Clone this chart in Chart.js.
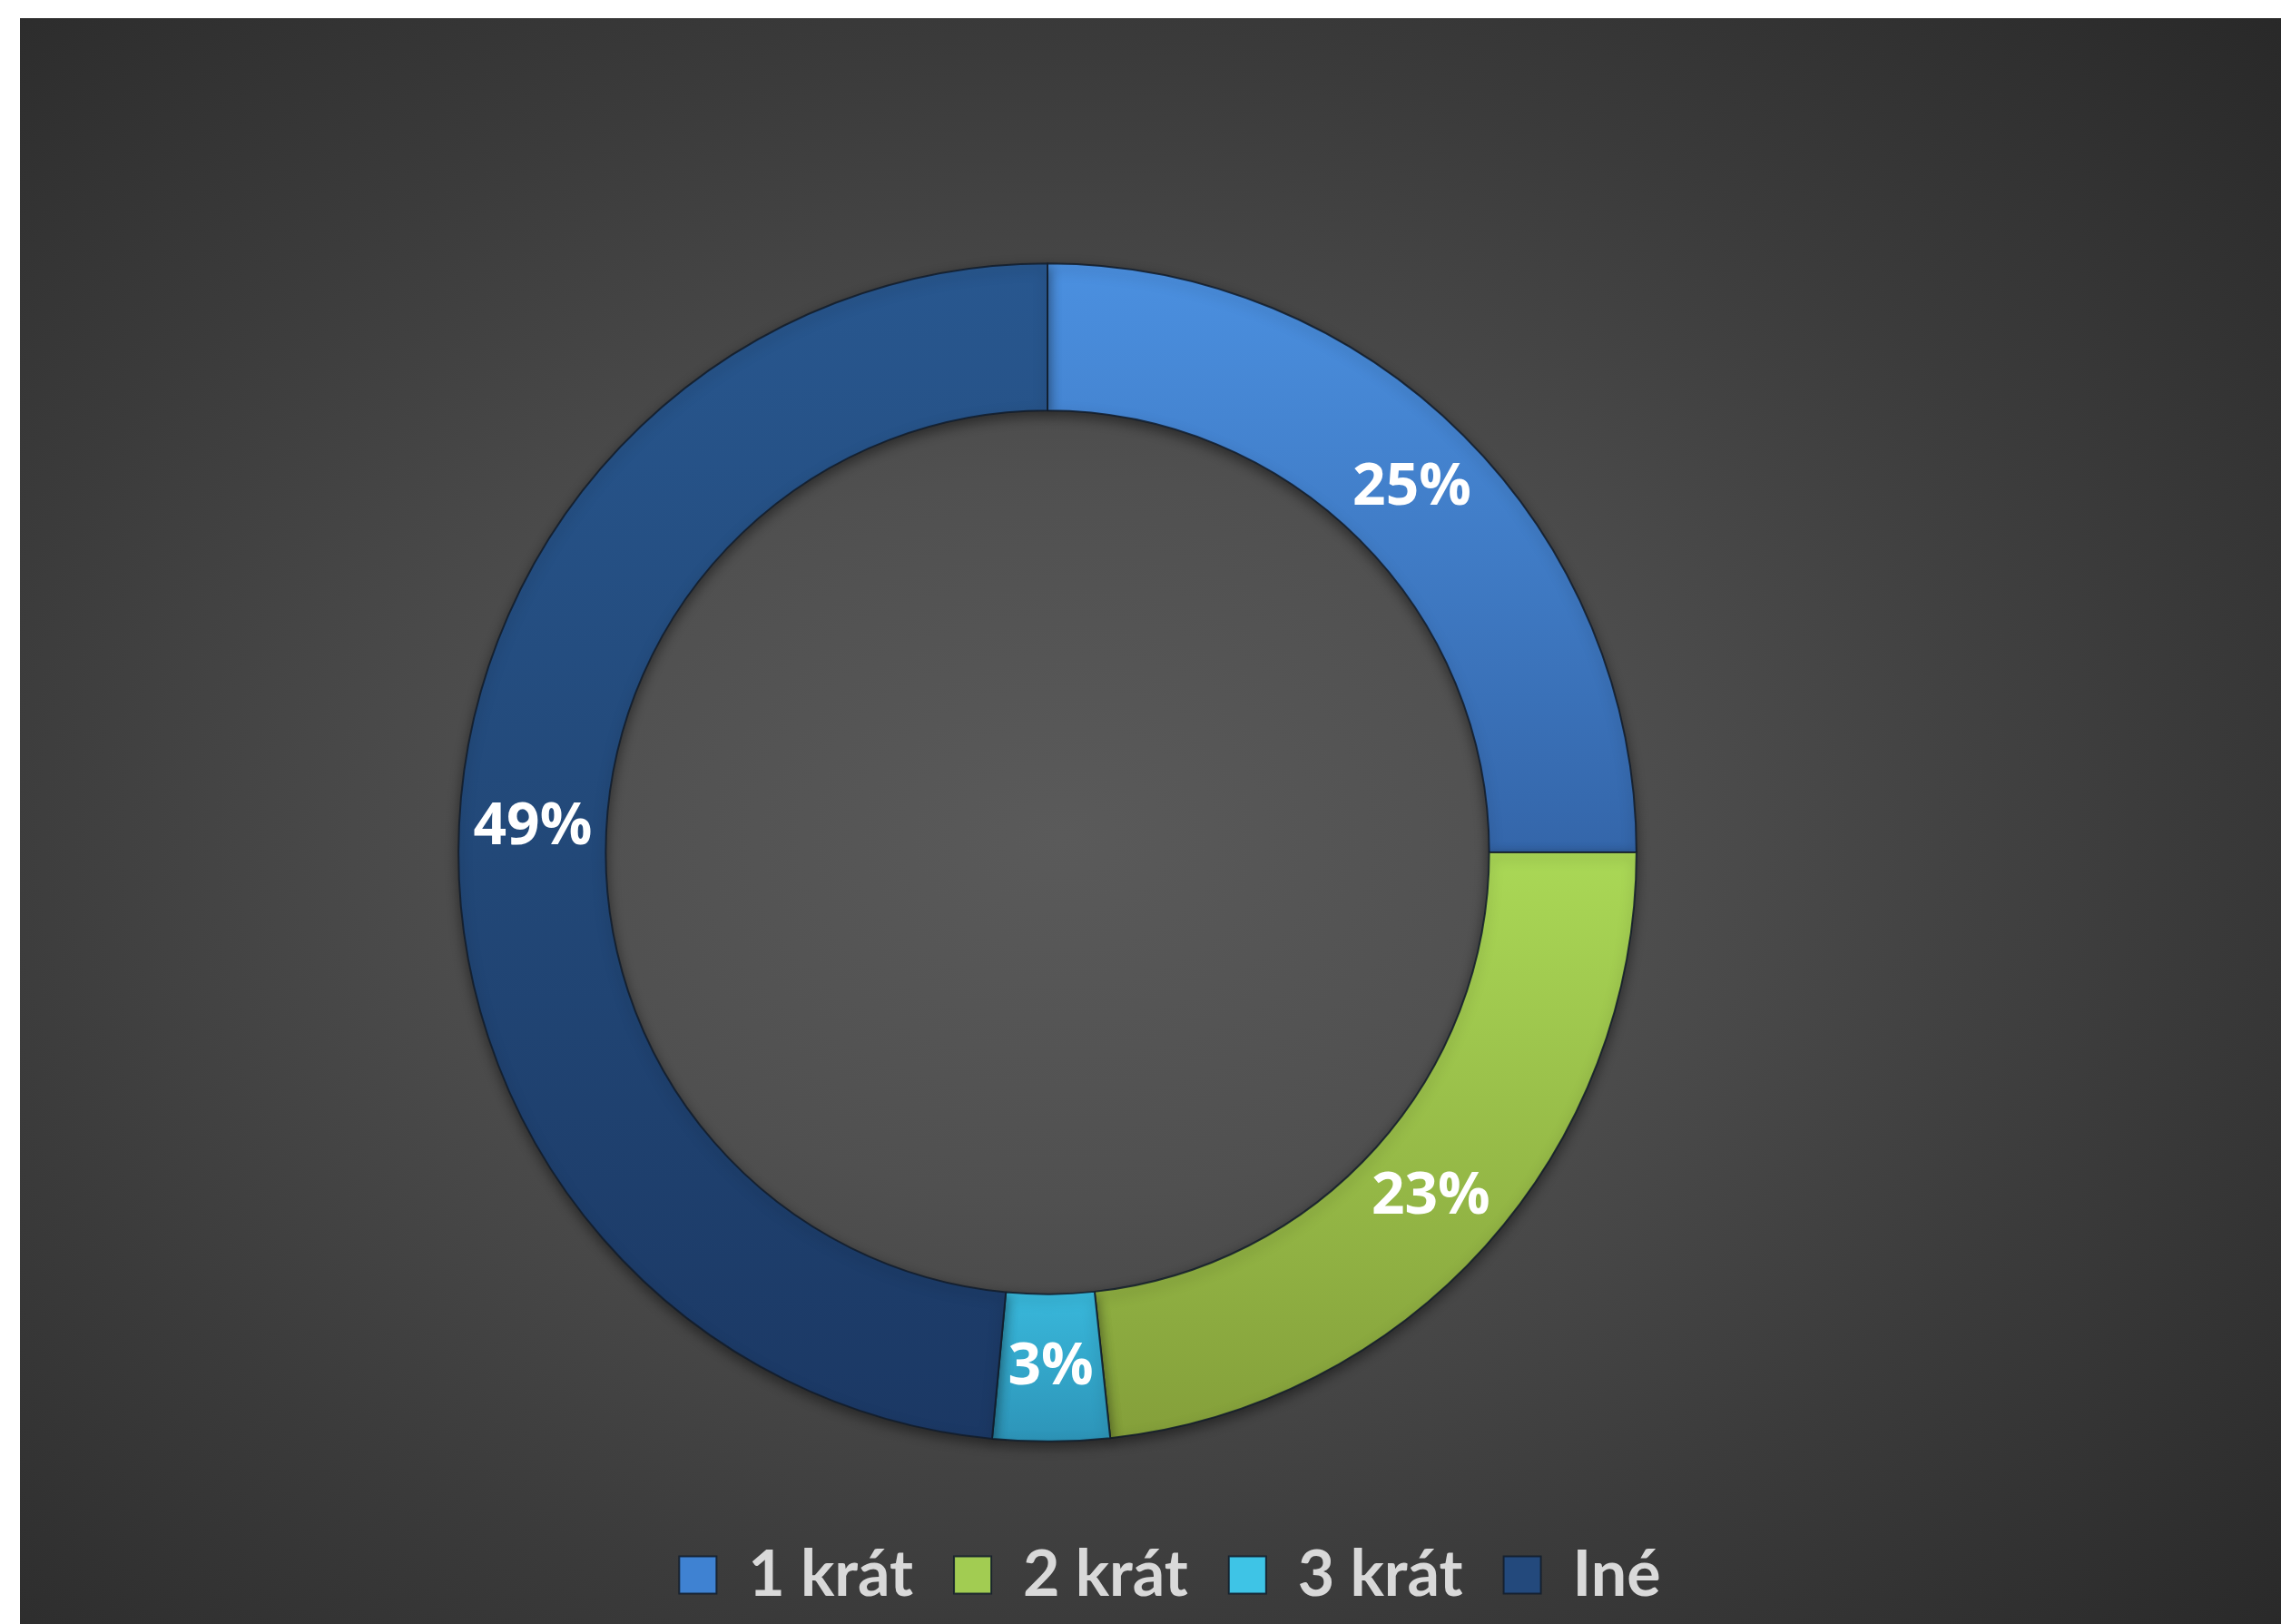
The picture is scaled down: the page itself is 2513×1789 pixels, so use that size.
<!DOCTYPE html>
<html>
<head>
<meta charset="utf-8">
<script src="https://cdn.jsdelivr.net/npm/chart.js@4.4.1/dist/chart.umd.min.js"></script>
<style>
  html, body { margin: 0; padding: 0; background: #fff; overflow: hidden; }
  #bg {
    position: absolute; left: 22px; top: 20px; right: 0; bottom: 0;
    background: radial-gradient(ellipse 75% 75% at 46% 51%, #5a5a5a 0%, #505050 30%, #3b3b3b 65%, #282828 100%);
  }
  #wrap { position: absolute; left: 22px; top: 20px; width: 2491px; height: 1760px; }
</style>
</head>
<body>
<div id="bg"></div>
<div id="wrap"><canvas id="myChart"></canvas></div>
<script>
// data
const categories = ["1 krát", "2 krát", "3 krát", "Iné"];
const shares = [25, 23.3, 3.2, 48.5];

// per-slice vertical gradient stops (0 = top of ring, 1 = bottom)
const sliceStops = [
  [[0, "#4b90e0"], [0.5, "#3466aa"], [1, "#2b5590"]],
  [[0, "#b8e862"], [0.5, "#aad856"], [1, "#849f3a"]],
  [[0, "#45cdf0"], [0.85, "#3bbfe2"], [1, "#2d94b8"]],
  [[0, "#28578f"], [0.5, "#224878"], [1, "#1b3864"]],
];
const legendColors = ["#3f82d2", "#a2cc52", "#3ec4e6", "#23497c"];

function sliceFill(c) {
  const chart = c.chart;
  const stops = sliceStops[c.dataIndex];
  const area = chart.chartArea;
  if (!area) return stops[1][1];
  const ctrl = chart.getDatasetMeta(0).controller;
  const cy = (area.top + area.bottom) / 2;
  const r = ctrl.outerRadius || area.height / 2;
  const g = chart.ctx.createLinearGradient(0, cy - r, 0, cy + r);
  stops.forEach(([p, col]) => g.addColorStop(p, col));
  return g;
}

const ringShadow = {
  id: "ringShadow",
  beforeDatasetsDraw(chart) {
    const ctx = chart.ctx;
    ctx.save();
    ctx.shadowColor = "rgba(0,0,0,0.45)";
    ctx.shadowBlur = 14;
    ctx.shadowOffsetY = 5;
  },
  afterDatasetsDraw(chart) {
    chart.ctx.restore();
  },
};

const sliceLabels = {
  id: "sliceLabels",
  afterDatasetsDraw(chart) {
    const ctx = chart.ctx;
    const meta = chart.getDatasetMeta(0);
    const total = shares.reduce((a, b) => a + b, 0);
    ctx.save();
    ctx.font = "bold 64px 'Open Sans'";
    ctx.fillStyle = "#ffffff";
    ctx.textAlign = "center";
    ctx.textBaseline = "middle";
    meta.data.forEach((arc, i) => {
      const p = arc.tooltipPosition();
      ctx.fillText(Math.round((shares[i] / total) * 100) + "%", p.x, p.y);
    });
    ctx.restore();
  },
};

const ctx = document.getElementById("myChart");
new Chart(ctx, {
  type: "doughnut",
  data: {
    labels: categories,
    datasets: [
      {
        data: shares,
        backgroundColor: sliceFill,
        borderColor: "rgba(18,28,42,0.85)",
        borderWidth: 2,
        hoverOffset: 0,
      },
    ],
  },
  options: {
    responsive: true,
    maintainAspectRatio: false,
    animation: false,
    cutout: "75%",
    radius: "90.75%",
    layout: {
      padding: { left: 43, right: 0, top: 203, bottom: 0 },
    },
    plugins: {
      tooltip: { enabled: false },
      title: {
        display: true,
        position: "right",
        text: "",
        font: { size: 10 },
        padding: { top: 129, bottom: 129 },
      },
      legend: {
        position: "bottom",
        labels: {
          color: "#d9d9d9",
          font: { family: "Lato", size: 70, weight: "bold" },
          boxWidth: 41,
          boxHeight: 41,
          padding: 45,
          generateLabels(chart) {
            const items = Chart.overrides.doughnut.plugins.legend.labels.generateLabels(chart);
            items.forEach((it, i) => { it.fillStyle = legendColors[i]; });
            return items;
          },
        },
      },
    },
  },
  plugins: [ringShadow, sliceLabels],
});
</script>
</body>
</html>
